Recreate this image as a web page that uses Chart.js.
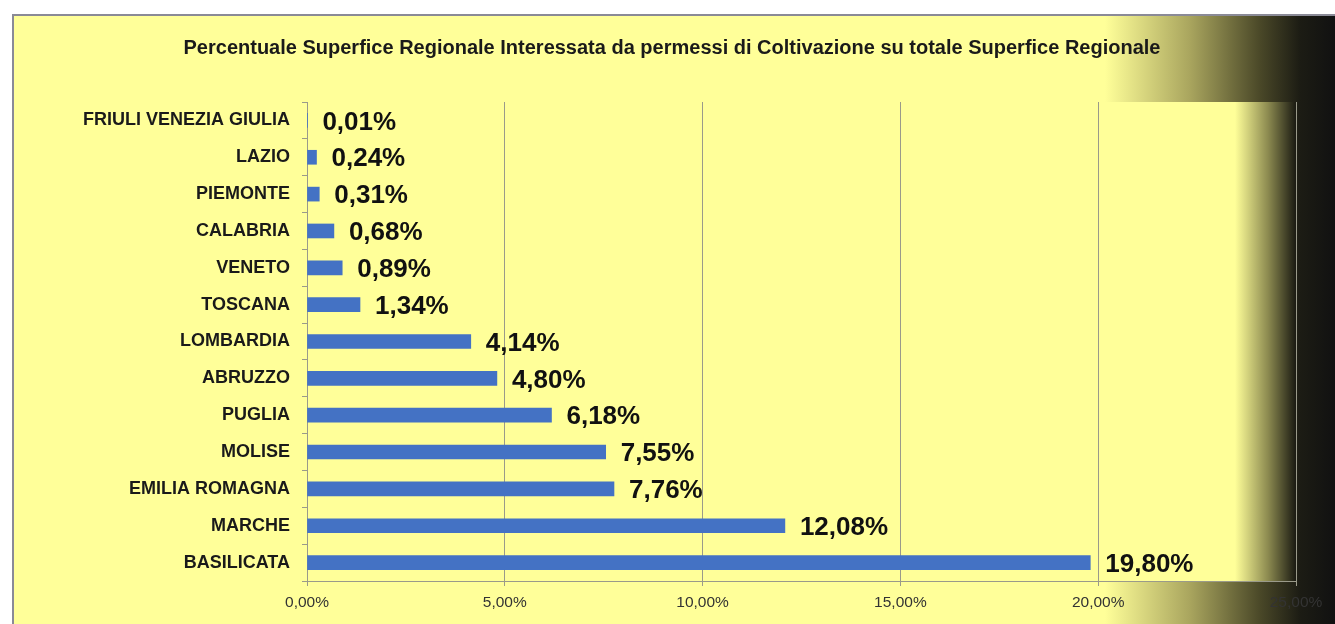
<!DOCTYPE html>
<html>
<head>
    <title>Superficie Regionale</title>
    <script src="https://cdn.jsdelivr.net/npm/chart.js"></script>
    <style>
        html, body { margin: 0; padding: 0; background: #fff; }
        .chart-container { position: relative; width: 1335px; height: 624px; }
    </style>
</head>
<body>
    <div class="chart-container">
        <canvas id="superficieChart"></canvas>
    </div>

    <script>
        // Dati
        const regioni = ['FRIULI VENEZIA GIULIA', 'LAZIO', 'PIEMONTE', 'CALABRIA', 'VENETO', 'TOSCANA',
            'LOMBARDIA', 'ABRUZZO', 'PUGLIA', 'MOLISE', 'EMILIA ROMAGNA', 'MARCHE', 'BASILICATA'];
        const percentuali = [0.01, 0.24, 0.31, 0.68, 0.89, 1.34, 4.14, 4.80, 6.18, 7.55, 7.76, 12.08, 19.80];
        const tickMax = 25;
        const tickStep = 5;
        const titolo = 'Percentuale Superfice Regionale Interessata da permessi di Coltivazione su totale Superfice Regionale';

        const FONT = 'Arial, "Liberation Sans", sans-serif';
        const GIALLO = '#FFFF99';

        function formatta(v) {
            return v.toFixed(2).replace('.', ',') + '%';
        }

        // sfondo: giallo con sfumatura scura a destra, bordo e titolo
        const sfondo = {
            id: 'sfondo',
            beforeDraw(chart) {
                const ctx = chart.ctx;
                const w = chart.width, h = chart.height;
                ctx.save();
                ctx.fillStyle = '#fff';
                ctx.fillRect(0, 0, w, h);
                let g = ctx.createLinearGradient(0, 0, w, 0);
                g.addColorStop(0, GIALLO);
                g.addColorStop(1105 / w, GIALLO);
                g.addColorStop(1190 / w, '#a9a55e');
                g.addColorStop(1260 / w, '#4a4828');
                g.addColorStop(1300 / w, '#1c1c14');
                g.addColorStop(1, '#111');
                ctx.fillStyle = g;
                ctx.fillRect(12, 14, w - 12, h - 14);

                const a = chart.chartArea;
                g = ctx.createLinearGradient(a.left, 0, a.right, 0);
                g.addColorStop(0, GIALLO);
                g.addColorStop((1235 - a.left) / (a.right - a.left), GIALLO);
                g.addColorStop((1268 - a.left) / (a.right - a.left), '#8c8a50');
                g.addColorStop(1, '#1a1a12');
                ctx.fillStyle = g;
                ctx.fillRect(a.left, a.top, a.right - a.left, a.bottom - a.top);

                ctx.strokeStyle = '#8a8a96';
                ctx.lineWidth = 2;
                ctx.beginPath();
                ctx.moveTo(13, h);
                ctx.lineTo(13, 15);
                ctx.lineTo(w, 15);
                ctx.stroke();

                ctx.font = 'bold 20px ' + FONT;
                ctx.fillStyle = '#1a1a1a';
                ctx.textAlign = 'center';
                ctx.textBaseline = 'middle';
                ctx.fillText(titolo, 672, 48);
                ctx.restore();
            }
        };

        // etichette dei valori a fianco delle barre
        const etichette = {
            id: 'etichette',
            afterDatasetsDraw(chart) {
                const ctx = chart.ctx;
                const meta = chart.getDatasetMeta(0);
                ctx.save();
                ctx.font = 'bold 26px ' + FONT;
                ctx.fillStyle = '#111';
                ctx.textBaseline = 'middle';
                ctx.textAlign = 'left';
                meta.data.forEach((bar, i) => {
                    ctx.fillText(formatta(percentuali[i]), bar.x + 15, bar.y + 2);
                });
                ctx.restore();
            }
        };

        const ctx = document.getElementById('superficieChart').getContext('2d');
        new Chart(ctx, {
            type: 'bar',
            data: {
                labels: regioni,
                datasets: [{
                    data: percentuali,
                    backgroundColor: '#4472C4',
                    barThickness: 14
                }]
            },
            options: {
                indexAxis: 'y',
                responsive: true,
                maintainAspectRatio: false,
                animation: false,
                layout: { padding: { left: 0, right: 39, top: 102, bottom: 0 } },
                plugins: {
                    legend: { display: false },
                    tooltip: { enabled: false },
                    title: { display: false }
                },
                scales: {
                    x: {
                        min: 0,
                        max: tickMax,
                        ticks: {
                            stepSize: tickStep,
                            color: '#333',
                            font: { family: FONT, size: 15.5 },
                            padding: 7,
                            callback: v => formatta(v)
                        },
                        grid: { color: '#9a9a8a', tickLength: 5, lineWidth: 1 },
                        border: { color: '#9a9a8a' },
                        afterFit: s => { s.height = 43; }
                    },
                    y: {
                        ticks: {
                            color: '#1a1a1a',
                            font: { family: FONT, size: 18, weight: 'bold' },
                            padding: 12
                        },
                        grid: { drawOnChartArea: false, tickLength: 5, color: '#9a9a8a' },
                        border: { color: '#9a9a8a' },
                        afterFit: s => { s.width = 307; }
                    }
                }
            },
            plugins: [sfondo, etichette]
        });
    </script>
</body>
</html>
